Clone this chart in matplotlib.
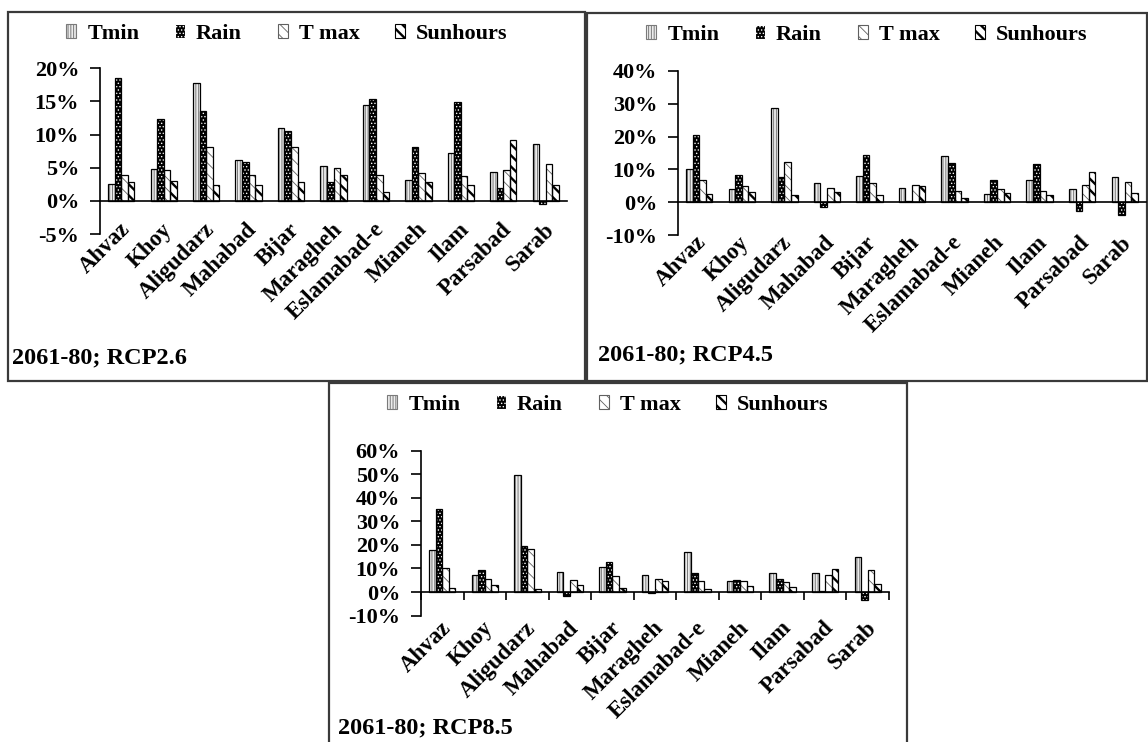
import matplotlib
matplotlib.use("Agg")
import matplotlib.pyplot as plt
import numpy as np
from matplotlib.patches import Rectangle, Patch
from matplotlib.ticker import PercentFormatter

plt.rcParams['font.family'] = ['Liberation Serif', 'DejaVu Serif']
plt.rcParams['font.weight'] = 'bold'
plt.rcParams['axes.unicode_minus'] = False

stations = ["Ahvaz", "Khoy", "Aligudarz", "Mahabad", "Bijar", "Maragheh",
            "Eslamabad-e", "Mianeh", "Ilam", "Parsabad", "Sarab"]
series_names = ["Tmin", "Rain", "T max", "Sunhours"]

# RCP2.6 (percent)
rcp26_tmin = [2.6, 4.8, 17.8, 6.1, 11.0, 5.2, 14.5, 3.1, 7.2, 4.4, 8.6]
rcp26_rain = [18.6, 12.4, 13.6, 5.9, 10.6, 2.9, 15.3, 8.1, 14.9, 1.9, -0.4]
rcp26_tmax = [3.9, 4.6, 8.2, 3.9, 8.2, 5.0, 3.9, 4.2, 3.7, 4.6, 5.5]
rcp26_sun = [2.8, 3.0, 2.4, 2.4, 2.8, 3.9, 1.3, 2.8, 2.4, 9.2, 2.4]

# RCP4.5
rcp45_tmin = [10.2, 4.0, 28.6, 5.9, 8.0, 4.4, 14.0, 2.5, 6.9, 4.0, 7.7]
rcp45_rain = [20.6, 8.4, 7.7, -1.6, 14.3, 0.3, 12.1, 6.9, 11.5, -2.7, -3.9]
rcp45_tmax = [6.9, 4.8, 12.4, 4.4, 6.0, 5.2, 3.5, 4.0, 3.5, 5.2, 6.2]
rcp45_sun = [2.5, 3.2, 2.1, 3.0, 2.2, 4.8, 1.4, 2.9, 2.2, 9.1, 2.9]

# RCP8.5
rcp85_tmin = [17.8, 7.1, 49.6, 8.6, 10.6, 7.1, 17.0, 4.7, 8.2, 8.2, 14.9]
rcp85_rain = [35.4, 9.2, 19.4, -1.7, 12.7, -0.3, 7.9, 5.2, 5.7, 0.3, -3.4]
rcp85_tmax = [10.2, 5.5, 18.4, 5.1, 6.6, 5.5, 4.7, 4.7, 4.2, 7.2, 9.2]
rcp85_sun = [1.6, 3.0, 1.4, 3.1, 1.8, 4.5, 1.1, 2.4, 2.1, 9.8, 3.3]

panels = [
    dict(data=[rcp26_tmin, rcp26_rain, rcp26_tmax, rcp26_sun], ylim=(-5, 20), step=5,
         label="2061-80; RCP2.6",
         box=(8, 12, 585, 381), ax=(100, 68.3, 567, 234), leg=(287, 34), lab=(12, 358),
         cat_ticks=False, lab_dy=15, lab_dx=-0.05),
    dict(data=[rcp45_tmin, rcp45_rain, rcp45_tmax, rcp45_sun], ylim=(-10, 40), step=10,
         label="2061-80; RCP4.5",
         box=(587, 13, 1147, 381), ax=(678, 71, 1146, 235), leg=(867, 35), lab=(598, 355),
         cat_ticks=False, lab_dy=3, lab_dx=-0.08),
    dict(data=[rcp85_tmin, rcp85_rain, rcp85_tmax, rcp85_sun], ylim=(-10, 60), step=10,
         label="2061-80; RCP8.5",
         box=(329, 383, 907, 760), ax=(421, 450.7, 889, 615.6), leg=(608, 405), lab=(338, 728),
         cat_ticks=True, lab_dy=-2, lab_dx=-0.05),
]

W, H = 1148, 742
fig = plt.figure(figsize=(W / 100, H / 100), dpi=100)

styles = [
    dict(face='#ececec', hatch='||||||', hcol='#7a7a7a', hlw=0.7),
    dict(face='black', hatch='.....', hcol='white', hlw=0.6),
    dict(face='white', hatch='\\\\\\', hcol='#606060', hlw=0.6),
    dict(face='white', hatch='\\\\\\', hcol='black', hlw=1.7),
]


def set_hlw(patch, lw):
    if hasattr(patch, 'set_hatch_linewidth'):
        patch.set_hatch_linewidth(lw)


x = np.arange(len(stations))
bw = 0.155

for p in panels:
    bx0, by0, bx1, by1 = p['box']
    fig.add_artist(Rectangle((bx0 / W, 1 - by1 / H), (bx1 - bx0) / W, (by1 - by0) / H,
                             transform=fig.transFigure, fill=False, edgecolor='#3a3a3a',
                             linewidth=1.6, zorder=0))
    ax0, ay0, ax1, ay1 = p['ax']
    ax = fig.add_axes([ax0 / W, 1 - ay1 / H, (ax1 - ax0) / W, (ay1 - ay0) / H])
    ax.patch.set_alpha(0)
    handles = []
    for i, (vals, st) in enumerate(zip(p['data'], styles)):
        pos = x + (i - 1.5) * bw
        bars = ax.bar(pos, vals, bw, color=st['face'], edgecolor=st['hcol'], hatch=st['hatch'],
                      linewidth=0, zorder=2)
        for b in bars:
            set_hlw(b, st['hlw'])
        ax.bar(pos, vals, bw, fill=False, edgecolor='black', linewidth=0.9, zorder=3)
        handles.append(Patch(facecolor=st['face'], edgecolor=st['hcol'], hatch=st['hatch']))
    ax.set_xlim(-0.5, len(stations) - 0.5)
    ax.set_ylim(*p['ylim'])
    ax.set_yticks(np.arange(p['ylim'][0], p['ylim'][1] + 0.1, p['step']))
    ax.yaxis.set_major_formatter(PercentFormatter(decimals=0))
    for s in ['top', 'right']:
        ax.spines[s].set_visible(False)
    ax.spines['bottom'].set_position(('data', 0))
    ax.spines['left'].set_linewidth(1.2)
    ax.spines['bottom'].set_linewidth(1.2)
    ax.tick_params(axis='y', direction='out', length=7, width=1.2, labelsize=16, pad=8)
    if p['cat_ticks']:
        ax.set_xticks(np.arange(len(stations) + 1) - 0.5, minor=False)
        ax.set_xticklabels([])
        ax.tick_params(axis='x', direction='out', length=6, width=1.2)
    else:
        ax.set_xticks([])
    ymin = p['ylim'][0]
    span = p['ylim'][1] - p['ylim'][0]
    px_per_unit = (ay1 - ay0) / span
    ylab = ymin + p['lab_dy'] / px_per_unit
    for xi, name in zip(x, stations):
        ax.text(xi + p['lab_dx'], ylab, name, rotation=45,
                ha='right', va='top', rotation_mode='anchor', fontsize=16.5, fontweight='bold')
    leg = fig.legend(handles, series_names, loc='center',
                     bbox_to_anchor=(p['leg'][0] / W, 1 - p['leg'][1] / H),
                     ncol=4, frameon=False, handlelength=0.45, handleheight=0.6,
                     handletextpad=0.5, columnspacing=1.6, prop={'weight': 'bold', 'size': 16})
    for lp, st in zip(leg.get_patches(), styles):
        set_hlw(lp, st['hlw'])
        lp.set_linewidth(0.8)
    fig.text(p['lab'][0] / W, 1 - p['lab'][1] / H, p['label'], fontsize=17.5, fontweight='bold',
             ha='left', va='center')

fig.savefig("out.png", dpi=100)
